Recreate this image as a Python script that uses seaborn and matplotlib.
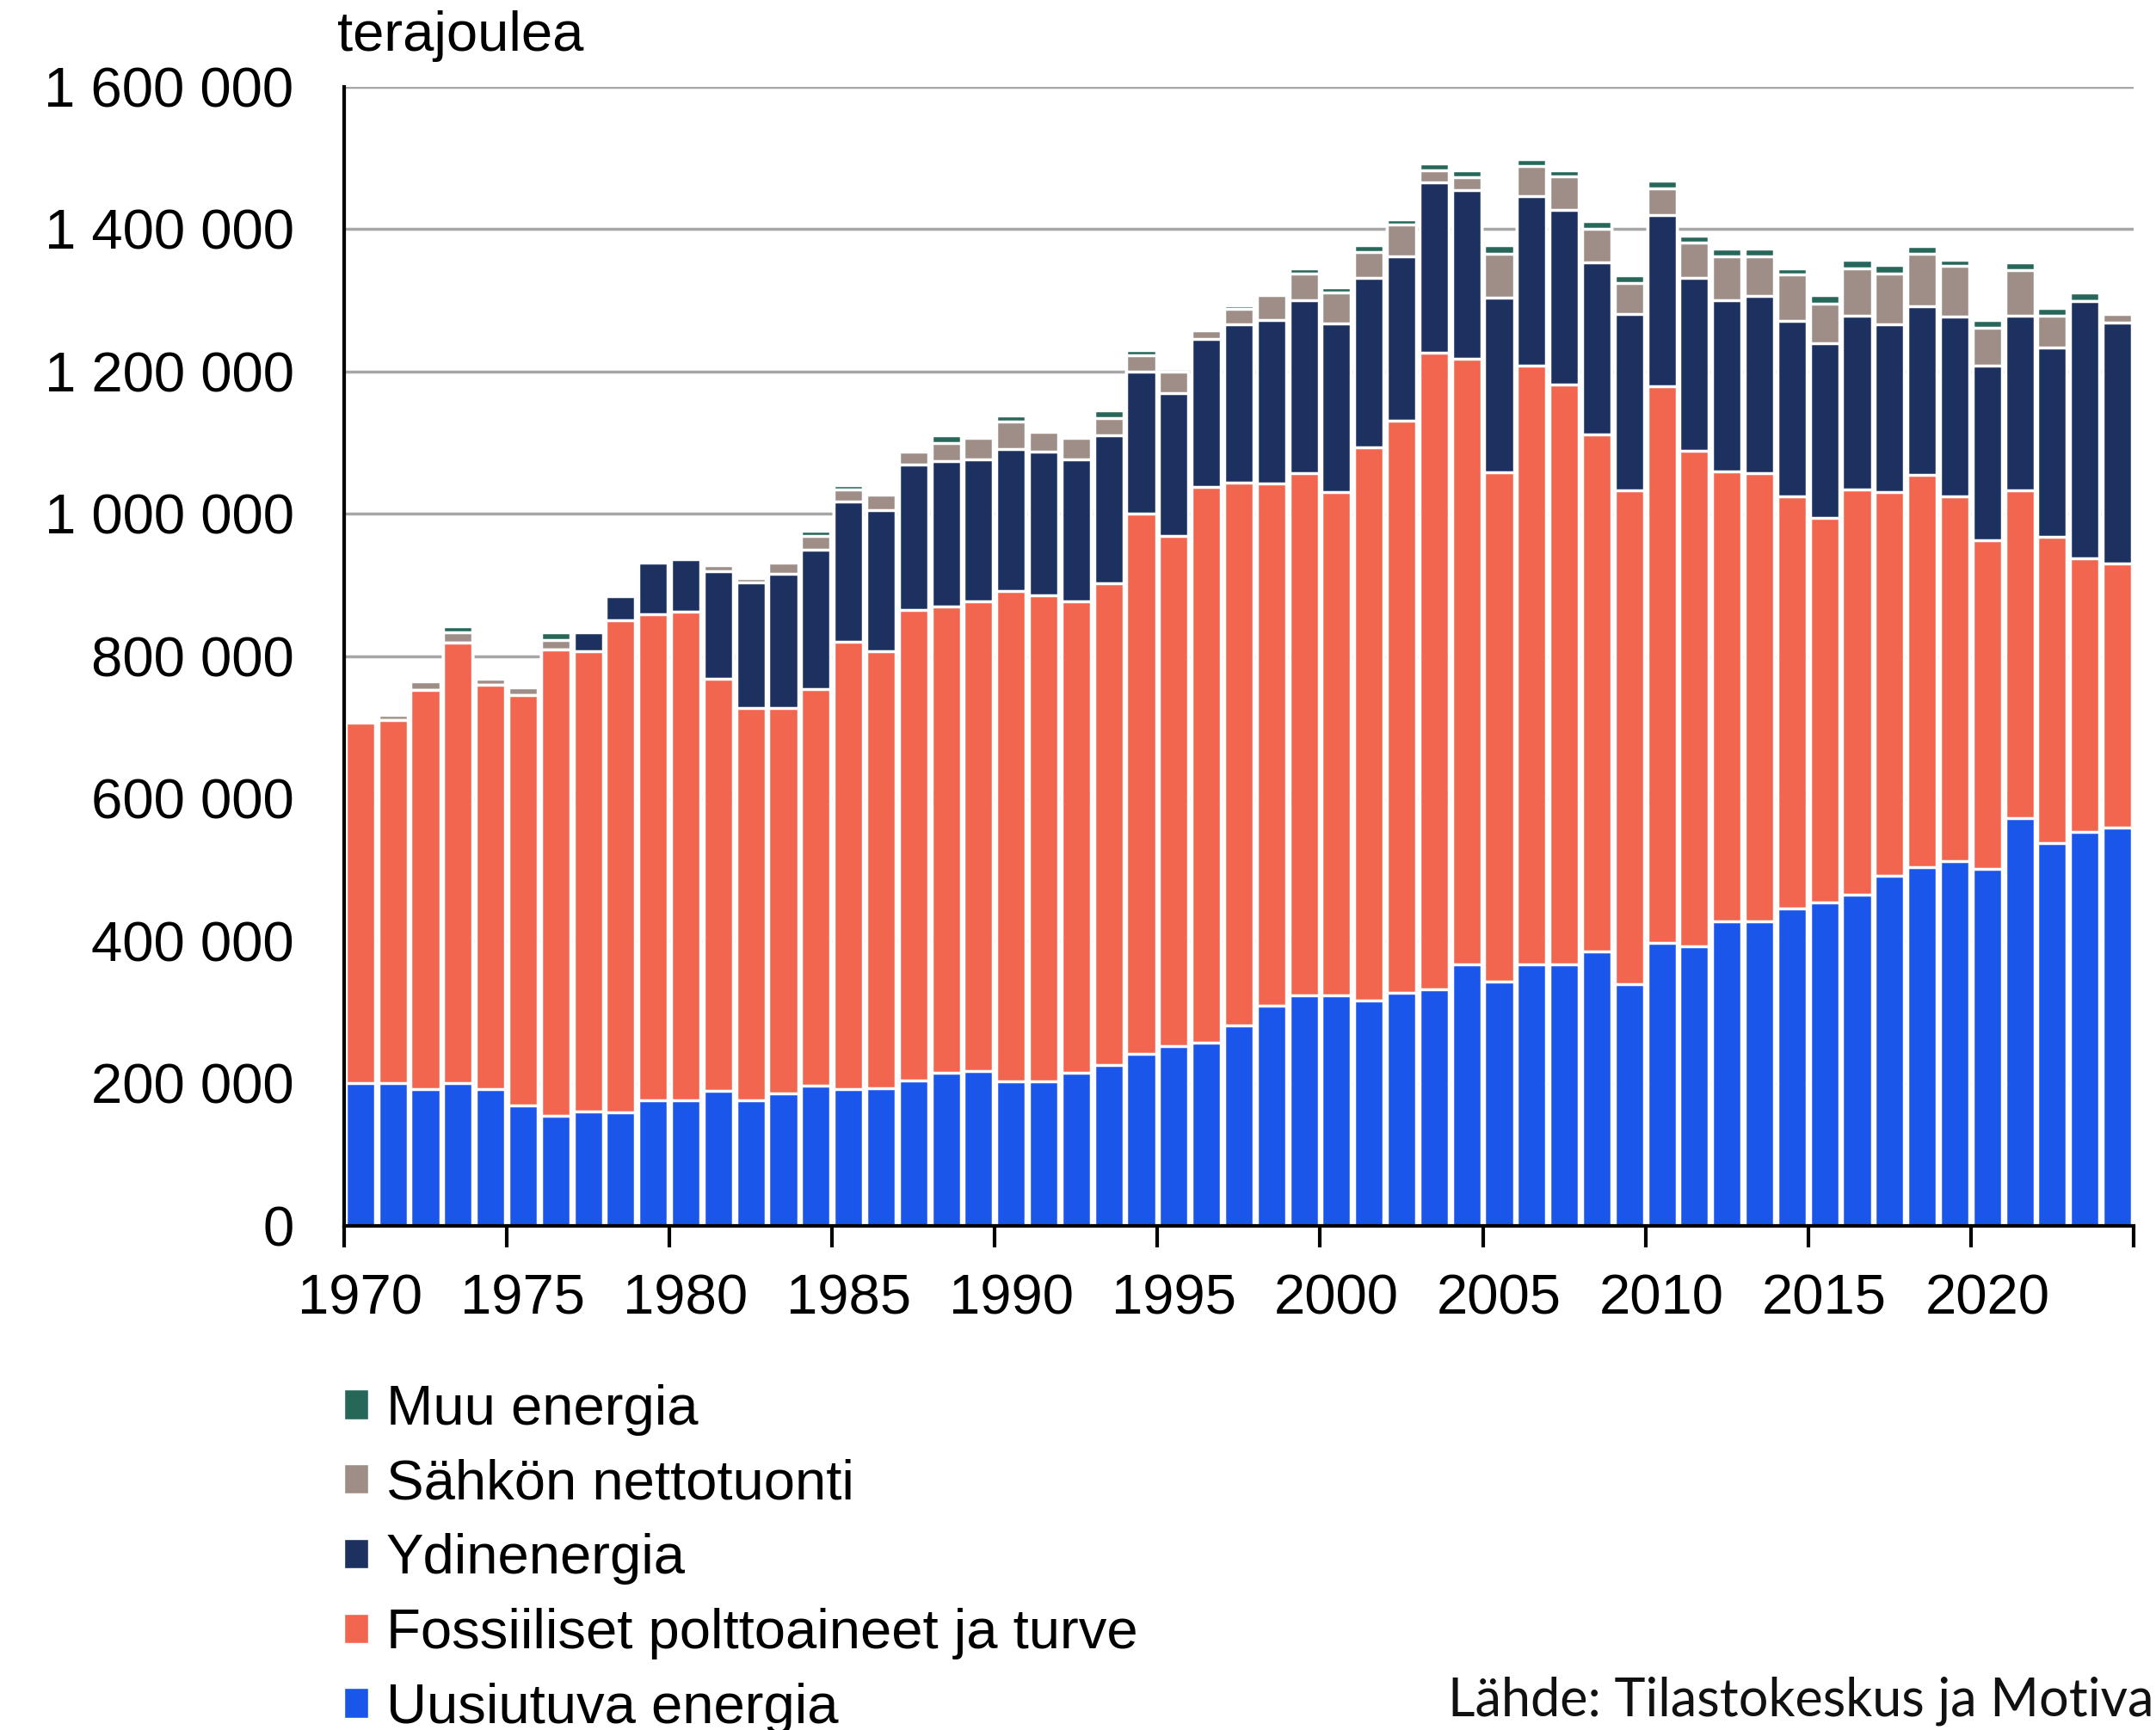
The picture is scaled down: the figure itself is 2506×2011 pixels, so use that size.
import pandas as pd
import matplotlib
matplotlib.use('Agg')
import matplotlib.pyplot as plt
import seaborn as sns
from matplotlib.patches import Patch
from matplotlib.ticker import FuncFormatter, FixedLocator

# Energian kokonaiskulutus lähteittäin, tuhatta TJ (luettu kuvasta)
years = list(range(1970, 2025))
uusiutuva = [200, 200, 192, 200, 192, 169, 155, 161, 159, 176,
             176, 190, 176, 186, 197, 192, 193, 204, 215, 217,
             203, 203, 215, 226, 242, 253, 257, 282, 309, 324,
             324, 317, 328, 332, 367, 343, 367, 367, 386, 340,
             397, 393, 428, 428, 446, 454, 465, 492, 504, 512,
             501, 573, 538, 553, 560]
fossiiliset = [507, 511, 561, 619, 568, 576, 655, 646, 692, 683,
               687, 579, 552, 542, 557, 628, 614, 661, 655, 660,
               689, 683, 662, 677, 758, 716, 781, 762, 734, 733,
               707, 777, 803, 895, 851, 716, 842, 815, 726, 693,
               782, 696, 632, 629, 579, 540, 570, 539, 551, 513,
               462, 460, 430, 385, 370]
ydin = [0, 0, 0, 0, 0, 0, 0, 27, 34, 73,
        73, 151, 176, 188, 196, 198, 198, 204, 204, 200,
        199, 201, 200, 207, 200, 201, 208, 222, 230, 243,
        237, 238, 231, 239, 237, 245, 238, 245, 241, 248,
        241, 243, 240, 249, 246, 246, 244, 235, 237, 252,
        245, 245, 266, 361, 339]
tuonti = [0, 7, 12, 15, 9, 12, 13, 0, 0, 0,
          0, 8, 6, 16, 19, 16, 22, 19, 26, 30,
          39, 28, 30, 25, 23, 30, 12, 22, 34, 38,
          43, 36, 45, 17, 18, 61, 42, 47, 47, 43,
          37, 49, 62, 56, 66, 56, 66, 72, 73, 72,
          54, 64, 44, 0, 12]
muu = [0, 0, 0, 8, 0, 0, 11, 0, 0, 0,
       0, 0, 0, 0, 8, 7, 0, 0, 11, 0,
       8, 0, 0, 11, 7, 0, 0, 5, 0, 7,
       7, 9, 7, 9, 10, 12, 10, 9, 11, 11,
       11, 10, 11, 11, 8, 11, 12, 12, 11, 8,
       11, 11, 11, 12, 0]

labels = ['Muu energia', 'Sähkön nettotuonti', 'Ydinenergia',
          'Fossiiliset polttoaineet ja turve', 'Uusiutuva energia']
colors = ['#27675a', '#9e8e87', '#1c3160', '#f2654e', '#1b56eb']

df = pd.DataFrame({'vuosi': years, 'uusiutuva': uusiutuva, 'fossiiliset': fossiiliset,
                   'ydin': ydin, 'tuonti': tuonti, 'muu': muu})
# kumulatiiviset summat pinottuja pylväitä varten (TJ)
cols = ['uusiutuva', 'fossiiliset', 'ydin', 'tuonti', 'muu']
cum = df[cols].cumsum(axis=1) * 1000
cum['vuosi'] = df['vuosi']

sns.set_theme(style='white')
plt.rcParams['font.family'] = ['Liberation Sans', 'DejaVu Sans']
plt.rcParams['text.color'] = 'black'
plt.rcParams['xtick.color'] = 'black'
plt.rcParams['ytick.color'] = 'black'

fig = plt.figure(figsize=(25.06, 20.11), dpi=100)
ax = fig.add_axes([0.1596, 0.2914, 0.83, 0.6584])

# piirretään korkein kerros ensin, lyhyemmät päälle
for col, color in zip(cols[::-1], colors):
    sns.barplot(data=cum, x='vuosi', y=col, color=color, saturation=1, width=0.9,
                edgecolor='white', linewidth=2.5, errorbar=None, ax=ax)

ax.set_xlim(-0.5, len(years) - 0.5)
ax.set_ylim(0, 1600000)
ax.set_yticks(range(0, 1600001, 200000))
ax.yaxis.set_major_formatter(FuncFormatter(lambda v, p: f'{int(v):,}'.replace(',', ' ')))
ax.yaxis.grid(True, color='#a6a6a6', linewidth=2.5)
ax.set_axisbelow(True)

ax.xaxis.set_major_locator(FixedLocator(list(range(0, len(years), 5))))
ax.set_xticklabels([str(y) for y in years[::5]])
ax.xaxis.set_minor_locator(FixedLocator([i - 0.5 for i in range(0, len(years) + 1, 5)]))
ax.tick_params(axis='x', which='major', length=0, pad=40, labelsize=47, labelcolor='black')
ax.tick_params(axis='x', which='minor', bottom=True, length=18, width=3, color='black')
ax.tick_params(axis='y', length=0, pad=42, labelsize=47, labelcolor='black')
ax.set_xlabel('')
ax.set_ylabel('')

for s in ['top', 'right']:
    ax.spines[s].set_visible(False)
for s in ['left', 'bottom']:
    ax.spines[s].set_color('black')
    ax.spines[s].set_linewidth(3)

fig.text(392 / 2506, 1 - 42 / 2011, 'terajoulea', ha='left', va='center', fontsize=47, color='black')

handles = [Patch(facecolor=c, edgecolor='white', linewidth=1) for c in colors]
leg = fig.legend(handles, labels, loc='upper left', bbox_to_anchor=(0.1596, 0.2000),
                 frameon=False, fontsize=47, handlelength=0.43, handleheight=0.43,
                 handletextpad=0.32, labelspacing=0.41, borderpad=0, borderaxespad=0)
for t in leg.get_texts():
    t.set_color('black')

fig.text(0.999, 1 - 1977 / 2011, 'Lähde: Tilastokeskus ja Motiva', ha='right', va='center',
         fontsize=44, family=['Lato', 'DejaVu Sans'], color='#111111')

fig.savefig('out.png', dpi=100, facecolor='white')
